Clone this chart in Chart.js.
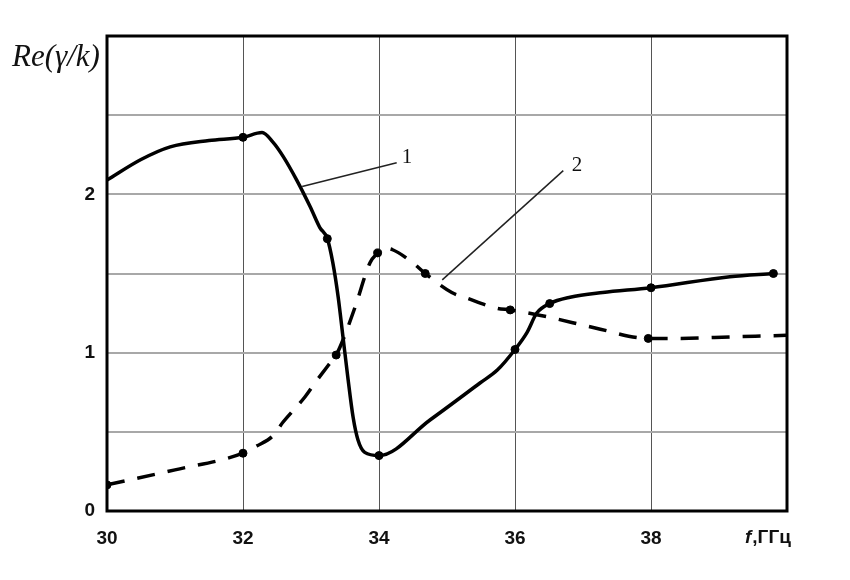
<!DOCTYPE html>
<html>
<head>
<meta charset="utf-8">
<script src="https://cdn.jsdelivr.net/npm/chart.js@4/dist/chart.umd.min.js"></script>
<style>
  html, body { margin: 0; padding: 0; background: #fff; }
  #wrap { width: 850px; height: 580px; }
</style>
</head>
<body>
<div id="wrap"><canvas id="reCanvas"></canvas></div>
<script>
// curve 1 (solid) and curve 2 (dashed), f in GHz vs Re(gamma/k)
var curve1F = [30, 30.5, 30.93, 31.5, 32, 32.28, 32.44, 32.59, 32.79, 32.99, 33.13, 33.24, 33.32, 33.40, 33.47, 33.54, 33.62, 33.69, 33.79, 34, 34.75, 35.49, 35.74, 36, 36.18, 36.32, 36.51, 36.81, 37.29, 38, 39.16, 39.8];
var curve1V = [2.09, 2.22, 2.30, 2.34, 2.36, 2.39, 2.33, 2.24, 2.09, 1.92, 1.79, 1.72, 1.57, 1.35, 1.10, 0.85, 0.59, 0.45, 0.37, 0.35, 0.575, 0.81, 0.89, 1.02, 1.13, 1.25, 1.31, 1.35, 1.38, 1.41, 1.48, 1.50];
var curve1MarkF = [32, 33.24, 34, 36, 36.51, 38, 39.8];
var curve1MarkV = [2.36, 1.72, 0.35, 1.02, 1.31, 1.41, 1.50];

var curve2F = [30, 31, 32, 32.2, 32.44, 32.59, 32.91, 33.06, 33.28, 33.37, 33.47, 33.65, 33.87, 33.98, 34.06, 34.2, 34.49, 34.68, 35.07, 35.29, 35.74, 35.93, 36.49, 37.18, 37.96, 38.43, 39.2, 40];
var curve2V = [0.165, 0.26, 0.365, 0.41, 0.475, 0.562, 0.72, 0.81, 0.935, 0.985, 1.08, 1.29, 1.57, 1.63, 1.66, 1.65, 1.57, 1.50, 1.38, 1.345, 1.28, 1.27, 1.225, 1.156, 1.09, 1.09, 1.10, 1.11];
var curve2MarkF = [30, 32, 33.37, 33.98, 34.68, 35.93, 37.96];
var curve2MarkV = [0.165, 0.365, 0.985, 1.63, 1.50, 1.27, 1.09];

var xTickLabels = ['30', '32', '34', '36', '38', ''];
var yTickLabels = ['0', '', '1', '', '2', '', ''];

// curve labels with leader lines: [label, textF, textV, fromF, fromV, toF, toV]
var curveNotes = [
  ['1', 34.41, 2.23, 32.87, 2.05, 34.26, 2.20],
  ['2', 36.91, 2.18, 34.93, 1.46, 36.71, 2.15]
];

function toPoints(xs, ys) {
  return xs.map(function (x, i) { return { x: x, y: ys[i] }; });
}

var framePlugin = {
  id: 'frame',
  afterDraw: function (chart) {
    var ctx = chart.ctx;
    var a = chart.chartArea;
    var xs = chart.scales.x, ys = chart.scales.y;
    ctx.save();
    ctx.strokeStyle = '#000';
    ctx.lineWidth = 3;
    ctx.strokeRect(a.left, a.top, a.right - a.left, a.bottom - a.top);

    // y axis title
    ctx.fillStyle = '#111';
    ctx.font = 'italic 31px "Liberation Serif", "Times New Roman", serif';
    ctx.textAlign = 'left';
    ctx.textBaseline = 'alphabetic';
    ctx.fillText('Re(γ/k)', 12, 66);

    // x axis title in place of the last tick
    ctx.textBaseline = 'middle';
    ctx.font = 'italic bold 19px "Liberation Sans", Arial, sans-serif';
    var fx = 745;
    ctx.fillText('f', fx, 538);
    fx += ctx.measureText('f').width + 1;
    ctx.font = 'bold 19px "Liberation Sans", Arial, sans-serif';
    ctx.fillText(',ГГц', fx, 538);

    // curve labels
    ctx.lineWidth = 1.5;
    ctx.strokeStyle = '#222';
    ctx.font = '21px "Liberation Serif", "Times New Roman", serif';
    ctx.textAlign = 'center';
    curveNotes.forEach(function (n) {
      ctx.beginPath();
      ctx.moveTo(xs.getPixelForValue(n[3]), ys.getPixelForValue(n[4]));
      ctx.lineTo(xs.getPixelForValue(n[5]), ys.getPixelForValue(n[6]));
      ctx.stroke();
      ctx.fillText(n[0], xs.getPixelForValue(n[1]), ys.getPixelForValue(n[2]));
    });
    ctx.restore();
  }
};

var ctx = document.getElementById('reCanvas').getContext('2d');
var reChart = new Chart(ctx, {
  type: 'scatter',
  data: {
    datasets: [
      {
        data: toPoints(curve1F, curve1V),
        showLine: true,
        borderColor: '#000',
        borderWidth: 3.5,
        pointRadius: 0,
        cubicInterpolationMode: 'monotone'
      },
      {
        data: toPoints(curve2F, curve2V),
        showLine: true,
        borderColor: '#000',
        borderWidth: 3.5,
        borderDash: [18, 13],
        pointRadius: 0,
        cubicInterpolationMode: 'monotone'
      },
      {
        data: toPoints(curve1MarkF, curve1MarkV),
        pointRadius: 4,
        pointBackgroundColor: '#000',
        pointBorderColor: '#000'
      },
      {
        data: toPoints(curve2MarkF, curve2MarkV),
        pointRadius: 4,
        pointBackgroundColor: '#000',
        pointBorderColor: '#000'
      }
    ]
  },
  options: {
    responsive: true,
    maintainAspectRatio: false,
    animation: false,
    layout: { padding: { left: 0, top: 36, right: 63, bottom: 0 } },
    plugins: { legend: { display: false }, tooltip: { enabled: false } },
    scales: {
      x: {
        type: 'linear',
        min: 30,
        max: 40,
        border: { display: false },
        grid: { color: '#555', lineWidth: 1, drawTicks: false },
        ticks: {
          stepSize: 2,
          padding: 16,
          color: '#111',
          maxRotation: 0,
          font: { family: '"Liberation Sans", Arial, sans-serif', size: 19, weight: 'bold' },
          callback: function (value, index) { return xTickLabels[index]; }
        },
        afterFit: function (scale) { scale.height = 69; }
      },
      y: {
        min: 0,
        max: 3,
        border: { display: false },
        grid: { color: '#a8a8a8', lineWidth: 2, drawTicks: false },
        ticks: {
          stepSize: 0.5,
          padding: 12,
          color: '#111',
          font: { family: '"Liberation Sans", Arial, sans-serif', size: 19, weight: 'bold' },
          callback: function (value, index) { return yTickLabels[index]; }
        },
        afterFit: function (scale) { scale.width = 107; }
      }
    }
  },
  plugins: [framePlugin]
});
</script>
</body>
</html>
